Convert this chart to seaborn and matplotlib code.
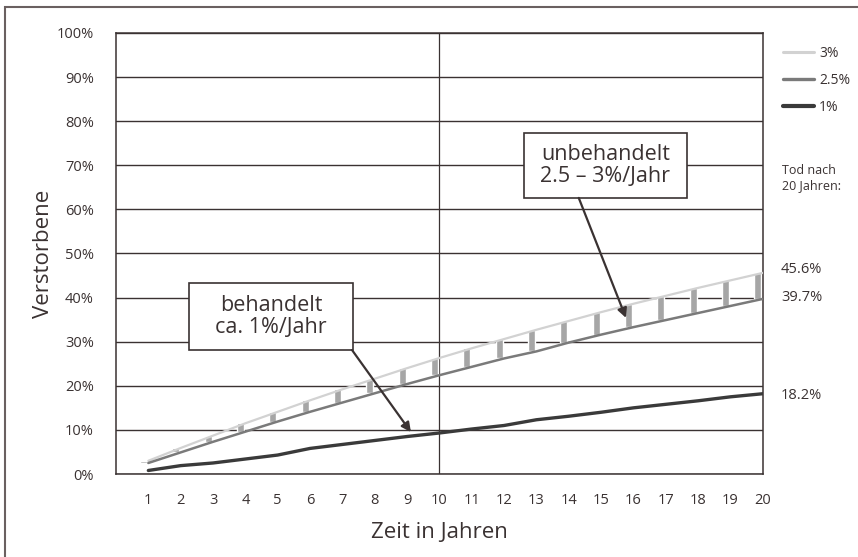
import matplotlib
matplotlib.use("Agg")
import matplotlib.pyplot as plt
import matplotlib.patches as mpatches
import pandas as pd
import numpy as np
import seaborn as sns

years = list(range(1, 21))
rate_3 = [3.0, 5.9, 8.7, 11.5, 14.1, 16.7, 19.2, 21.6, 24.0, 26.3,
          28.5, 30.6, 32.7, 34.7, 36.7, 38.6, 40.4, 42.2, 43.9, 45.6]
rate_25 = [2.5, 4.9, 7.3, 9.6, 11.9, 14.1, 16.2, 18.3, 20.4, 22.4,
           24.3, 26.2, 27.8, 29.8, 31.6, 33.3, 34.9, 36.5, 38.1, 39.7]
rate_1 = [0.8, 1.9, 2.5, 3.4, 4.3, 5.8, 6.7, 7.6, 8.5, 9.3,
          10.2, 11.0, 12.3, 13.1, 14.0, 15.0, 15.8, 16.6, 17.5, 18.2]
series = ["3%", "2.5%", "1%"]
colors = {"3%": "#d2d2d2", "2.5%": "#7a7a7a", "1%": "#3a3a3a"}
widths = {"3%": 1.6, "2.5%": 1.8, "1%": 2.4}
end_labels = ["45.6%", "39.7%", "18.2%"]

sns.set_style("white")
plt.rcParams["font.family"] = ["Open Sans", "DejaVu Sans"]
ink = "#3a3232"

df = pd.DataFrame({
    "Jahr": years * 3,
    "Wert": rate_3 + rate_25 + rate_1,
    "Rate": ["3%"] * 20 + ["2.5%"] * 20 + ["1%"] * 20,
})

fig = plt.figure(figsize=(8.58, 5.57), dpi=100)
ax = fig.add_axes([0.1352, 0.149, 0.7538, 0.7918])

# grey bars between the 2.5% and 3% curves
ax.bar(np.array(years) - 0.15, np.array(rate_3) - np.array(rate_25),
       bottom=rate_25, width=0.22, color="#a6a6a6", zorder=2)

for s in series:
    sub = df[df["Rate"] == s]
    sns.lineplot(data=sub, x="Jahr", y="Wert", color=colors[s],
                 linewidth=widths[s], ax=ax, zorder=3)

ax.set_xlim(0, 20)
ax.set_ylim(0, 100)
ax.set_xticks(range(0, 21))
ax.set_xticklabels([""] + [str(y) for y in years], fontsize=10.5, color=ink)
ax.set_yticks(range(0, 101, 10))
ax.set_yticklabels([f"{v}%" for v in range(0, 101, 10)], fontsize=10.5, color=ink)
ax.tick_params(axis="y", direction="out", length=10, width=1, color=ink, pad=6)
ax.tick_params(axis="x", direction="out", length=8, width=1, color=ink, pad=6)
ax.grid(axis="y", color=ink, linewidth=1)
ax.axvline(10, color=ink, linewidth=0.9, zorder=1)
for sp in ax.spines.values():
    sp.set_color(ink)
    sp.set_linewidth(1.1)
ax.set_xlabel("Zeit in Jahren", fontsize=16, color=ink, labelpad=10)
ax.set_ylabel("Verstorbene", fontsize=16, color=ink, labelpad=2)

# legend
handles = [plt.Line2D([], [], color=colors[s], linewidth=widths[s] + 0.6) for s in series]
fig.legend(handles, series, loc="upper left", bbox_to_anchor=(0.898, 0.94),
           frameon=False, fontsize=10, handlelength=2.2, handletextpad=0.4,
           labelspacing=0.85, labelcolor=ink)

# end values
fig.text(0.912, 0.68, "Tod nach\n20 Jahren:", fontsize=9, color=ink,
         ha="left", va="center", linespacing=1.25)
for lab, v in zip(end_labels, [46.3, 40.1, 17.9]):
    ax.annotate(lab, xy=(20, v), xytext=(13, 0), textcoords="offset points",
                fontsize=10.5, color=ink, va="center", annotation_clip=False)

# callouts: box, text, arrow
callouts = [
    ("behandelt\nca. 1%/Jahr", (2.26, 28.1, 7.33, 43.3), (7.3, 28.1), (9.12, 9.5)),
    ("unbehandelt\n2.5 – 3%/Jahr", (12.61, 62.6, 17.65, 77.3), (14.31, 62.6), (15.77, 35.4)),
]
for txt, (x0, y0, x1, y1), start, end in callouts:
    ax.add_patch(mpatches.Rectangle((x0, y0), x1 - x0, y1 - y0, facecolor="white",
                                    edgecolor=ink, linewidth=1.2, zorder=5))
    ax.text((x0 + x1) / 2, (y0 + y1) / 2, txt, fontsize=15.5, color=ink,
            ha="center", va="center", linespacing=1.05, zorder=6)
    ax.annotate("", xy=end, xytext=start,
                arrowprops=dict(arrowstyle="-|>", color=ink, lw=1.6,
                                mutation_scale=14, shrinkA=0, shrinkB=0),
                zorder=5)

# outer frame
fig.patches.append(mpatches.Rectangle((0.006, -0.5), 1.5, 1.4874, transform=fig.transFigure,
                                      fill=False, edgecolor="#6a6060", linewidth=1.5))

fig.savefig("out.png", dpi=100)
